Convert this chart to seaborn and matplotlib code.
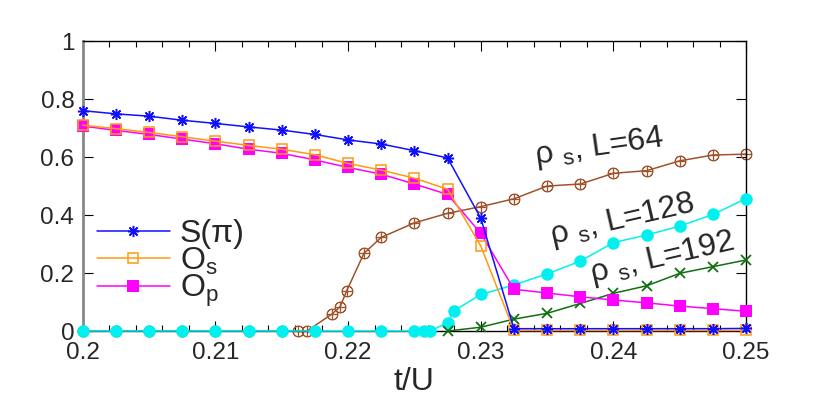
import numpy as np
import pandas as pd
import matplotlib
matplotlib.use('Agg')
import matplotlib.pyplot as plt
from matplotlib.ticker import MultipleLocator, FixedLocator
import seaborn as sns

# order parameters vs t/U
t_main = [0.2, 0.2025, 0.205, 0.2075, 0.21, 0.2125, 0.215, 0.2175, 0.22, 0.2225,
          0.225, 0.2275, 0.23, 0.2325, 0.235, 0.2375, 0.24, 0.2425, 0.245, 0.2475, 0.25]
S_pi = [0.760, 0.749, 0.741, 0.727, 0.716, 0.704, 0.693, 0.678, 0.659, 0.645,
        0.622, 0.597, 0.389, 0.008, 0.008, 0.008, 0.008, 0.008, 0.008, 0.008, 0.009]
O_s = [0.710, 0.698, 0.685, 0.670, 0.655, 0.640, 0.627, 0.608, 0.578, 0.555,
       0.527, 0.489, 0.293, 0.002, 0.002, 0.002, 0.002, 0.002, 0.002, 0.002, 0.002]
O_p = [0.707, 0.692, 0.678, 0.662, 0.646, 0.627, 0.613, 0.590, 0.564, 0.541,
       0.507, 0.471, 0.337, 0.144, 0.131, 0.118, 0.107, 0.097, 0.086, 0.077, 0.068]

# superfluid stiffness, L=64
t_L64 = [0.2, 0.2025, 0.205, 0.2075, 0.21, 0.2125, 0.215, 0.2162, 0.2169, 0.2188,
         0.2194, 0.2199, 0.2212, 0.2225, 0.225, 0.2275, 0.23, 0.2325, 0.235, 0.2375,
         0.24, 0.2425, 0.245, 0.2475, 0.25]
rho_L64 = [0, 0, 0, 0, 0, 0, 0, 0, 0, 0.059,
           0.084, 0.139, 0.268, 0.323, 0.373, 0.406, 0.429, 0.456, 0.500, 0.507,
           0.544, 0.553, 0.587, 0.607, 0.610]

# L=128
t_L128 = [0.2, 0.2025, 0.205, 0.2075, 0.21, 0.2125, 0.215, 0.2175, 0.22, 0.2225,
          0.225, 0.2257, 0.2262, 0.2275, 0.228, 0.23, 0.2325, 0.235, 0.2375, 0.24,
          0.2425, 0.245, 0.2475, 0.25]
rho_L128 = [0, 0, 0, 0, 0, 0, 0, 0, 0, 0,
            0, 0, 0, 0.029, 0.070, 0.126, 0.159, 0.197, 0.241, 0.305,
            0.331, 0.362, 0.402, 0.457]

# L=192
t_L192 = [0.2275, 0.23, 0.2325, 0.235, 0.2375, 0.24, 0.2425, 0.245, 0.2475, 0.25]
rho_L192 = [0, 0.013, 0.041, 0.061, 0.095, 0.130, 0.156, 0.199, 0.222, 0.245]

x_ticks = [0.2, 0.21, 0.22, 0.23, 0.24, 0.25]
x_ticklabels = ['0.2', '0.21', '0.22', '0.23', '0.24', '0.25']
y_ticks = [0, 0.2, 0.4, 0.6, 0.8, 1.0]
y_ticklabels = ['0', '0.2', '0.4', '0.6', '0.8', '1']

sns.set_style('ticks')
plt.rcParams['font.family'] = ['Liberation Sans', 'DejaVu Sans']
plt.rcParams['mathtext.fontset'] = 'custom'
plt.rcParams['mathtext.rm'] = 'Liberation Sans'
plt.rcParams['mathtext.it'] = 'Liberation Sans:italic'

fig, ax = plt.subplots(figsize=(8.3, 4.15), dpi=100)
fig.subplots_adjust(left=0.0996, right=0.899, bottom=0.2024, top=0.901)

lw = 1.1
sns.lineplot(x=t_L64, y=rho_L64, ax=ax, color='#a0522d', lw=lw, marker='$\\oplus$',
             markersize=8, markeredgewidth=0.6, markeredgecolor='#a0522d', zorder=2)
sns.lineplot(x=t_L128, y=rho_L128, ax=ax, color='#00f0f0', lw=lw, marker='o',
             markersize=9, markeredgewidth=0, zorder=3)
sns.lineplot(x=t_L192, y=rho_L192, ax=ax, color='#107010', lw=lw, marker='x',
             markersize=7, markeredgewidth=1.3, markeredgecolor='#107010', zorder=3)
sns.lineplot(x=t_main, y=O_p, ax=ax, color='#ff00ff', lw=lw, marker='s',
             markersize=8, markeredgewidth=0, label='O$_\\mathregular{p}$', zorder=4)
sns.lineplot(x=t_main, y=O_s, ax=ax, color='#ff9a10', lw=lw, marker='s',
             markersize=7, markerfacecolor='none', markeredgecolor='#ff9a10',
             markeredgewidth=1.1, label='O$_\\mathregular{s}$', zorder=5)
sns.lineplot(x=t_main, y=S_pi, ax=ax, color='#1010ff', lw=lw, marker=(8, 2, 0),
             markersize=8, markeredgewidth=1.1, markeredgecolor='#1010ff',
             label='S(π)', zorder=6)

ax.set_xlim(0.2, 0.25)
ax.set_ylim(0, 1)
ax.xaxis.set_major_locator(FixedLocator(x_ticks))
ax.set_xticklabels(x_ticklabels)
ax.xaxis.set_minor_locator(MultipleLocator(0.002))
ax.yaxis.set_major_locator(FixedLocator(y_ticks))
ax.set_yticklabels(y_ticklabels)
ax.tick_params(which='both', direction='in', top=True, right=True,
               labelsize=17.5, color='black')
ax.tick_params(which='major', length=7, width=0.8, pad=6)
ax.tick_params(axis='x', which='major', pad=8)
ax.tick_params(which='minor', length=4, width=0.8)
ax.tick_params(axis='y', which='minor', left=False, right=False)

for side in ['top', 'right', 'bottom']:
    ax.spines[side].set_color('black')
    ax.spines[side].set_linewidth(1.0)
ax.spines['left'].set_color('#888888')
ax.spines['left'].set_linewidth(2.0)

ax.set_xlabel('t/U', fontsize=23, labelpad=2)
ax.set_ylabel('')

# handles order S, O_s, O_p
handles, labels = ax.get_legend_handles_labels()
order = [labels.index('S(π)'), labels.index('O$_\\mathregular{s}$'),
         labels.index('O$_\\mathregular{p}$')]
ax.legend([handles[i] for i in order], [labels[i] for i in order],
          loc='upper left', bbox_to_anchor=(0.021, 0.385), frameon=False,
          fontsize=23, handlelength=2.3, handletextpad=0.3, labelspacing=-0.12,
          borderpad=0, borderaxespad=0)

ax.text(0.2389, 0.634, 'ρ $_\\mathregular{s}$, L=64', fontsize=23, rotation=8,
        rotation_mode='anchor', ha='center', va='center')
ax.text(0.24064, 0.383, 'ρ $_\\mathregular{s}$, L=128', fontsize=23, rotation=13,
        rotation_mode='anchor', ha='center', va='center')
ax.text(0.24367, 0.252, 'ρ $_\\mathregular{s}$, L=192', fontsize=23, rotation=13,
        rotation_mode='anchor', ha='center', va='center')

for ln in ax.lines:
    ln.set_clip_on(False)

fig.savefig('out.png', dpi=100)
